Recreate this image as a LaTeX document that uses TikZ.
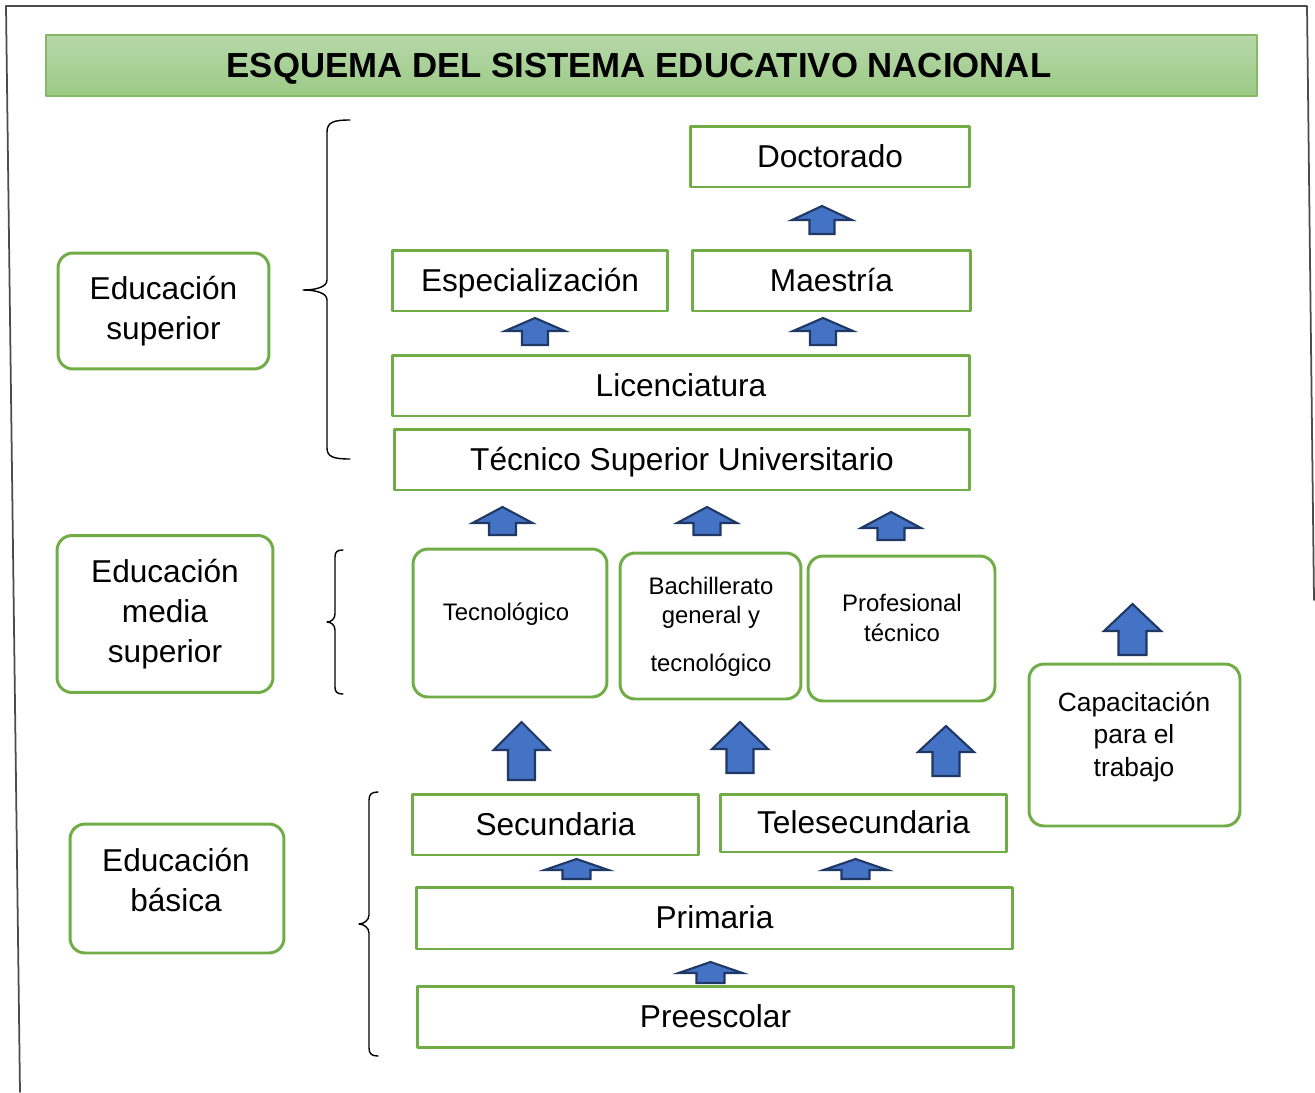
\documentclass[tikz,border=0pt]{standalone}
\usepackage{fontspec}
\setmainfont{Liberation Sans}
\usetikzlibrary{calc}

\definecolor{verde}{HTML}{70AD47}
\definecolor{verdeclaro}{HTML}{B7D8A9}
\definecolor{verdemedio}{HTML}{9CCA86}
\definecolor{azul}{HTML}{4472C4}
\definecolor{azuloscuro}{HTML}{203864}

% block arrow: x, tip y, head base y, bottom y, head half width, shaft half width
\newcommand{\flecha}[6]{%
  \filldraw[fill=azul,draw=azuloscuro,line width=1.2pt,line join=miter]
    (#1,#2) -- (#1+#5,#3) -- (#1+#6,#3) -- (#1+#6,#4) -- (#1-#6,#4)
    -- (#1-#6,#3) -- (#1-#5,#3) -- cycle;}

\begin{document}
\begin{tikzpicture}[line cap=round,line join=round,x=0.02cm,y=-0.02cm,
  titulo/.style={draw=verde!85,line width=0.8pt,top color=verdeclaro,bottom color=verdemedio,
    inner sep=0pt,font=\bfseries\fontsize{19.8}{23}\selectfont,text height=14pt,text depth=0pt},
  nivel/.style={draw=verde,line width=1.7pt,inner sep=0pt,
    font=\fontsize{18}{22}\selectfont,text height=16pt,text depth=4pt},
  grupo/.style={draw=verde,line width=1.7pt,rounded corners=0.3cm,inner sep=0pt,
    align=center,font=\fontsize{18}{22.7}\selectfont},
  opcion/.style={draw=verde,line width=1.7pt,rounded corners=0.3cm,inner sep=0pt},
  texto/.style={align=center,inner sep=0pt},
  llave/.style={line width=0.8pt},
  marco/.style={draw=black!70,line width=1pt}]
\useasboundingbox (0,0) rectangle (1315,1092);

\draw[marco] (20,1092) -- (6,6) -- (1307,6) -- (1314,600);

\node[titulo,minimum width=24.22cm,minimum height=1.22cm] (tit) at (651.5,65.5)
  {ESQUEMA DEL SISTEMA EDUCATIVO NACIONAL\kern0.5cm};

% educacion superior
\node[nivel,minimum width=5.6cm,minimum height=1.22cm] (doc) at (830,156.5) {Doctorado};
\node[nivel,minimum width=5.52cm,minimum height=1.22cm] (esp) at (530,280.5) {Especialización};
\node[nivel,minimum width=5.58cm,minimum height=1.22cm] (mae) at (831.5,280.5) {Maestría};
\node[nivel,minimum width=11.56cm,minimum height=1.22cm] (lic) at (681,385.5) {Licenciatura};
\node[nivel,minimum width=11.52cm,minimum height=1.22cm] (tsu) at (682,459.5) {Técnico Superior Universitario};

% educacion media superior
\node[opcion,minimum width=3.88cm,minimum height=2.96cm] (tec) at (510,623) {};
\node[opcion,minimum width=3.62cm,minimum height=2.92cm] (bach) at (710.5,626) {};
\node[opcion,minimum width=3.74cm,minimum height=2.9cm] (prof) at (901.5,628.5) {};
\node[opcion,minimum width=4.22cm,minimum height=3.24cm] (cap) at (1134.5,745) {};
\node[texto,font=\fontsize{13.6}{17}\selectfont,text height=12pt,text depth=3pt] (tectxt) at (506,613) {Tecnológico};
\node[texto,font=\fontsize{13.6}{16.4}\selectfont] (bachtxt) at (711,627) {Bachillerato\\general y\\[0.38cm]tecnológico};
\node[texto,font=\fontsize{13.6}{17}\selectfont] (proftxt) at (902,618) {Profesional\\técnico};
\node[texto,font=\fontsize{15}{18.7}\selectfont] (captxt) at (1134,737) {Capacitación\\para el\\trabajo};

% educacion basica
\node[nivel,minimum width=5.74cm,minimum height=1.22cm] (sec) at (555.5,824.5) {Secundaria};
\node[nivel,minimum width=5.74cm,minimum height=1.16cm] (tele) at (863.5,823) {Telesecundaria};
\node[nivel,minimum width=11.94cm,minimum height=1.24cm] (prim) at (714.5,918) {Primaria};
\node[nivel,minimum width=11.94cm,minimum height=1.22cm] (pre) at (715.5,1016.5) {Preescolar};

% grupos
\node[grupo,minimum width=4.22cm,minimum height=2.32cm] (esup) at (163.5,311) {Educación\\superior};
\node[grupo,minimum width=4.32cm,minimum height=3.14cm] (emed) at (165,614) {Educación\\media\\superior};
\node[grupo,minimum width=4.28cm,minimum height=2.58cm] (ebas) at (177,888.5) {};
\node[texto,font=\fontsize{18}{22.7}\selectfont] (ebastxt) at (176,880) {Educación\\básica};

\draw[llave] (350,120) .. controls (334,120) and (327,122) .. (327,132) -- (327,280)
  .. controls (327,287) and (316,290) .. (303,290) .. controls (316,290) and (327,293) .. (327,300)
  -- (327,448) .. controls (327,457) and (334,459) .. (350,459);
\draw[llave] (343,550) .. controls (337,550) and (335,552) .. (335,557) -- (335,614)
  .. controls (335,619) and (331,622) .. (327,622) .. controls (331,622) and (335,625) .. (335,630)
  -- (335,687) .. controls (335,692) and (337,694) .. (343,694);
\draw[llave] (378,792) .. controls (372,792) and (369,794) .. (369,800) -- (369,915)
  .. controls (369,920) and (364,924) .. (359,924) .. controls (364,924) and (369,928) .. (369,933)
  -- (369,1048) .. controls (369,1054) and (372,1056) .. (378,1056);

\flecha{822}{206}{220}{234}{30}{12.5}
\flecha{535}{318}{331}{345}{30}{13}
\flecha{823}{318}{331}{345}{30}{13}
\flecha{502.5}{507}{523}{535}{30}{13.5}
\flecha{707}{507}{523}{535}{30}{13.5}
\flecha{891}{512}{528}{540}{30}{13.5}
\flecha{521.5}{722}{750}{780}{28}{13.5}
\flecha{740}{722}{749}{773}{28}{13.5}
\flecha{946}{726}{752}{776}{28}{13.5}
\flecha{1132.5}{604}{631}{655}{28.5}{14}
\flecha{576.5}{859}{870}{879}{32}{14}
\flecha{855.5}{859}{870}{879}{32}{14}
\flecha{710.5}{962}{973}{983}{32}{14}

\end{tikzpicture}
\end{document}
